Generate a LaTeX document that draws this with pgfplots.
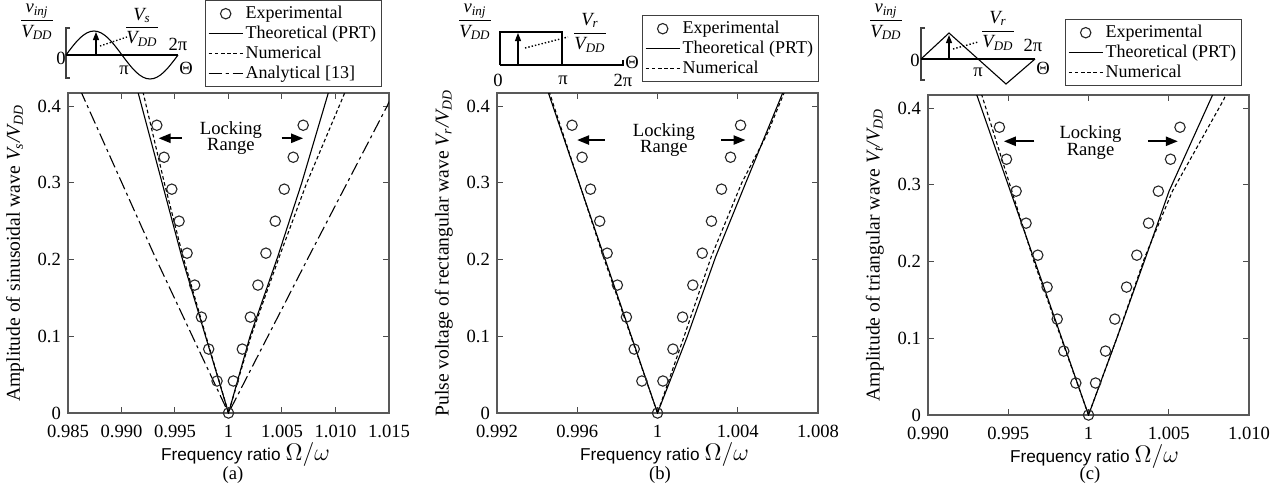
\documentclass[border=0pt]{standalone}
\usepackage{pgfplots}
\pgfplotsset{compat=1.18}
\usepackage{fontspec}
\setmainfont{Liberation Serif}
\newfontfamily\sansf{Liberation Sans}
\usetikzlibrary{arrows.meta}
\newcommand{\fs}{\fontsize{9.3}{10.5}\selectfont}
\newcommand{\fl}{\fontsize{9}{10}\selectfont}
\newcommand{\fy}{\fontsize{9.8}{11}\selectfont}
\newcommand{\fr}[2]{$\displaystyle\frac{\mbox{\itshape #1}}{\mbox{\itshape #2}}$}
\tikzset{lockarrow/.style={-{Triangle[length=6pt,width=4.5pt]}, line width=1.1pt, black},
  locktxt/.style={font=\fs, anchor=base, inner sep=0pt}}
\pgfplotsset{
  myax/.style={
    scale only axis, width=160.5pt, height=160pt,
    ymin=0, ymax=0.417,
    axis line style={draw=black!65, line width=0.8pt},
    tick style={black!70, line width=0.5pt},
    major tick length=3pt,
    tick label style={font=\fs},
    xticklabel style={yshift=-2.5pt},
    ylabel style={font=\fy},
    ytick={0,0.1,0.2,0.3,0.4},
    yticklabels={0,0.1,0.2,0.3,0.4},
    xlabel={{\fontsize{8.6}{10}\sansf Frequency ratio} {\fontsize{12.5}{13}\selectfont$\Omega/\omega$}},
    xlabel style={at={(axis description cs:0.5,0)}, anchor=base, yshift=-23.5pt},
    legend cell align=left,
    legend style={font=\fl, draw=black!75, line width=0.5pt, at={(1,1)}, anchor=south east,
      inner xsep=1.5pt, inner ysep=1pt, row sep=-0.8pt,
      nodes={inner sep=1.2pt, text height=6.4pt, text depth=2pt}},
    clip=true,
  },
  expt/.style={only marks, mark=o, mark size=2.6pt, mark options={line width=0.55pt, draw=black!85}},
  theo/.style={no marks, black, line width=0.55pt},
  numer/.style={no marks, black, line width=0.55pt, dash pattern=on 1.8pt off 1.3pt},
  anal/.style={no marks, black, line width=0.55pt, dash pattern=on 6.5pt off 2pt on 1.5pt off 2pt},
}
\begin{document}
\begin{tikzpicture}
\path[use as bounding box] (0,0) rectangle (642pt,-247.5pt);

% ---------------- (a) ----------------
\begin{axis}[myax, at={(34pt,-206.5pt)}, anchor=south west,
  xmin=0.985, xmax=1.015,
  xtick={0.985,0.99,0.995,1,1.005,1.01,1.015},
  xticklabels={0.985,0.990,0.995,1,1.005,1.010,1.015},
  xlabel style={xshift=8.5pt},
  ylabel={Amplitude of sinusoidal wave \textit{V\textsubscript{s}/V\textsubscript{DD}}},
  legend style={xshift=-3.5pt, yshift=3pt}]
\addplot[expt] coordinates {(0.99330,0.375)(0.99398,0.3333)(0.99470,0.2917)(0.99538,0.25)(0.99613,0.2083)(0.99684,0.1667)(0.99747,0.125)(0.99815,0.0833)(0.99893,0.0417)(1.0,0)(1.00045,0.0417)(1.00129,0.0833)(1.00204,0.125)(1.00275,0.1667)(1.0035,0.2083)(1.00437,0.25)(1.00521,0.2917)(1.00605,0.3333)(1.00698,0.375)};
\addlegendentry{Experimental}
\addplot[theo] coordinates {(0.99093,0.45)(0.99157,0.4165)(0.99563,0.2037)(1,0)(1.0020,0.0994)(1.0046,0.2037)(1.00684,0.2997)(1.00939,0.42)(1.01003,0.45)};
\addlegendentry{Theoretical (PRT)}
\addplot[numer] coordinates {(0.9914,0.45)(0.99204,0.4165)(0.9940,0.3)(0.99575,0.2037)(0.9979,0.1)(1,0)(1.0021,0.1)(1.00475,0.2037)(1.00731,0.2997)(1.0107,0.4117)(1.0118,0.45)};
\addlegendentry{Numerical}
\addplot[anal] coordinates {(0.98525,0.45)(0.98643,0.412)(0.99313,0.2037)(1,0)(1.00750,0.2037)(1.01479,0.399)(1.0162,0.44)};
\addlegendentry{Analytical [13]}
\node[locktxt] at (axis cs:1.00023,0.3635) {Locking};
\node[locktxt] at (axis cs:1.00023,0.3420) {Range};
\draw[lockarrow] (axis cs:0.99563,0.358) -- (axis cs:0.99346,0.358);
\draw[lockarrow] (axis cs:1.00496,0.358) -- (axis cs:1.00698,0.358);
\end{axis}

% ---------------- (b) ----------------
\begin{axis}[myax, at={(248.5pt,-206.5pt)}, anchor=south west,
  xmin=0.992, xmax=1.008,
  xtick={0.992,0.996,1,1.004,1.008},
  xticklabels={0.992,0.996,1,1.004,1.008},
  xlabel style={xshift=3.5pt},
  ylabel={Pulse voltage of rectangular wave \textit{V\textsubscript{r}/V\textsubscript{DD}}},
  legend style={xshift=0.5pt, yshift=5.5pt}]
\addplot[expt] coordinates {(0.99574,0.375)(0.99624,0.3333)(0.99666,0.2917)(0.99712,0.25)(0.99749,0.2083)(0.99800,0.1667)(0.99845,0.125)(0.99884,0.0833)(0.99922,0.0417)(1.0,0)(1.00027,0.0417)(1.00077,0.0833)(1.00125,0.125)(1.00176,0.1667)(1.00223,0.2083)(1.00269,0.25)(1.00319,0.2917)(1.00364,0.3333)(1.00414,0.375)};
\addlegendentry{Experimental}
\addplot[theo] coordinates {(0.99414,0.45)(0.99457,0.4165)(1,0)(1.00148,0.0994)(1.0029,0.2037)(1.0044,0.3)(1.00623,0.4165)(1.0067,0.45)};
\addlegendentry{Theoretical (PRT)}
\addplot[numer] coordinates {(0.9942,0.45)(0.99463,0.4165)(0.9973,0.2037)(1,0)(1.00132,0.0994)(1.00268,0.2037)(1.0042,0.3)(1.00548,0.3644)(1.0063,0.4165)(1.0067,0.45)};
\addlegendentry{Numerical}
\node[locktxt] at (axis cs:1.00032,0.3609) {Locking};
\node[locktxt] at (axis cs:1.00032,0.3394) {Range};
\draw[lockarrow] (axis cs:0.99736,0.3557) -- (axis cs:0.99599,0.3557);
\draw[lockarrow] (axis cs:1.00318,0.3557) -- (axis cs:1.00439,0.3557);
\end{axis}

% ---------------- (c) ----------------
\begin{axis}[myax, at={(464pt,-207.5pt)}, anchor=south west,
  xmin=0.99, xmax=1.01,
  xtick={0.99,0.995,1,1.005,1.01},
  xticklabels={0.990,0.995,1,1.005,1.010},
  xlabel style={xshift=3pt},
  ylabel={Amplitude of triangular wave \textit{V\textsubscript{t}/V\textsubscript{DD}}},
  legend style={xshift=-3.5pt, yshift=4.5pt}]
\addplot[expt] coordinates {(0.99445,0.375)(0.99489,0.3333)(0.99549,0.2917)(0.99611,0.25)(0.99684,0.2083)(0.99742,0.1667)(0.99805,0.125)(0.99846,0.0833)(0.99921,0.0417)(1.0,0)(1.00044,0.0417)(1.00106,0.0833)(1.00164,0.125)(1.00237,0.1667)(1.00301,0.2083)(1.00374,0.25)(1.00435,0.2917)(1.00511,0.3333)(1.0057,0.375)};
\addlegendentry{Experimental}
\addplot[theo] coordinates {(0.99249,0.45)(0.99304,0.417)(1,0)(1.00179,0.1016)(1.00356,0.2053)(1.00502,0.2918)(1.00773,0.417)(1.0084,0.45)};
\addlegendentry{Theoretical (PRT)}
\addplot[numer] coordinates {(0.9930,0.45)(0.99335,0.417)(0.9966,0.2)(1,0)(1.00179,0.1016)(1.0035,0.2053)(1.00523,0.2918)(1.00842,0.4108)(1.0092,0.45)};
\addlegendentry{Numerical}
\node[locktxt] at (axis cs:1.000125,0.3602) {Locking};
\node[locktxt] at (axis cs:1.000125,0.3387) {Range};
\draw[lockarrow] (axis cs:0.99663,0.3567) -- (axis cs:0.99472,0.3567);
\draw[lockarrow] (axis cs:1.0037,0.3567) -- (axis cs:1.00557,0.3567);
\end{axis}

% ---------------- insets ----------------
\begin{scope}[x=0.5pt,y=-0.5pt,line width=0.55pt]
 % (a) sinusoid
 \draw[black!75] (70,28)--(66,28)--(66,78)--(70,78);
 \draw (66,55)--(178,55);
 \draw (66,55) sin (94,31) cos (122,55) sin (150,79) cos (178,55);
 \draw[-{Triangle[length=4pt,width=3pt]}] (96,55)--(96,32);
 \draw[densely dotted, line width=0.7pt] (100,46)--(127,37);
 \node[font=\fs] at (37,22) {\fr{v\textsubscript{inj}}{V\textsubscript{DD}}};
 \node[font=\fs] at (142,27) {\fr{V\textsubscript{s}}{V\textsubscript{DD}}};
 \node[font=\fs] at (61,58) {0};
 \node[font=\fs] at (124,70) {π};
 \node[font=\fs] at (178,44) {2π};
 \node[font=\fs] at (186,68) {Θ};
 % (b) rectangular
 \draw (500,65)--(500,32)--(562,32)--(562,65);
 \draw (500,65)--(623,65)--(623,60);
 \draw[-{Triangle[length=4pt,width=3pt]}] (518,65)--(518,33);
 \draw[densely dotted, line width=0.7pt] (525,48)--(568,37);
 \node[font=\fs] at (475,22) {\fr{v\textsubscript{inj}}{V\textsubscript{DD}}};
 \node[font=\fs] at (590,33) {\fr{V\textsubscript{r}}{V\textsubscript{DD}}};
 \node[font=\fs] at (498,80) {0};
 \node[font=\fs] at (563,80) {π};
 \node[font=\fs] at (623,80) {2π};
 \node[font=\fs] at (632,62) {Θ};
 % (c) triangular
 \draw[black!75] (925,28)--(921,28)--(921,80)--(925,80);
 \draw (921,59)--(1035,59);
 \draw (921,59)--(949,33)--(1006,84)--(1035,59);
 \draw[-{Triangle[length=4pt,width=3pt]}] (949,59)--(949,35);
 \draw[densely dotted, line width=0.7pt] (953,49)--(978,42);
 \node[font=\fs] at (886,22) {\fr{v\textsubscript{inj}}{V\textsubscript{DD}}};
 \node[font=\fs] at (998,31) {\fr{V\textsubscript{r}}{V\textsubscript{DD}}};
 \node[font=\fs] at (915,60) {0};
 \node[font=\fs] at (978,72) {π};
 \node[font=\fs] at (1033,45) {2π};
 \node[font=\fs] at (1043,68) {Θ};
 % sub-figure labels
 \node[font=\fs] at (233,475) {(a)};
 \node[font=\fs] at (660,475) {(b)};
 \node[font=\fs] at (1090,475) {(c)};
\end{scope}
\end{tikzpicture}
\end{document}
